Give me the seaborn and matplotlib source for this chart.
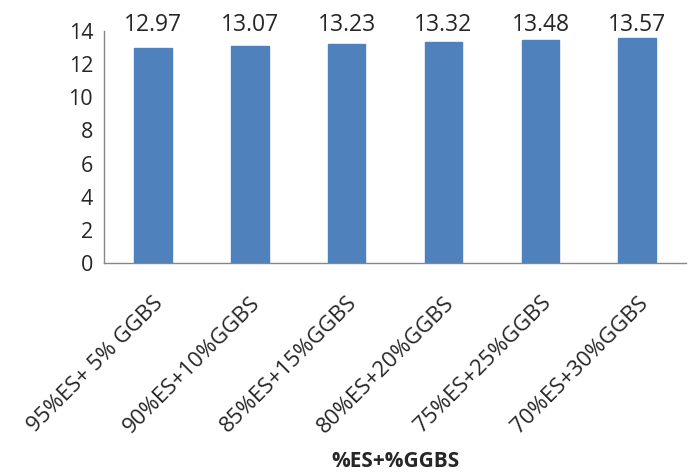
import matplotlib
matplotlib.use("Agg")
import matplotlib.pyplot as plt
import matplotlib.transforms as mtransforms
import numpy as np
import pandas as pd
import seaborn as sns

# Mix proportions and measured values
mixes = ["95%ES+ 5% GGBS", "90%ES+10%GGBS", "85%ES+15%GGBS",
         "80%ES+20%GGBS", "75%ES+25%GGBS", "70%ES+30%GGBS"]
values = [12.97, 13.07, 13.23, 13.32, 13.48, 13.57]
y_ticks = [0, 2, 4, 6, 8, 10, 12, 14]
x_title = "%ES+%GGBS"

sns.set_style("white")
plt.rcParams["font.family"] = ["Open Sans", "DejaVu Sans"]

df = pd.DataFrame({"mix": mixes, "value": values})

fig = plt.figure(figsize=(6.9, 4.75), dpi=100)
ax = fig.add_axes([0.151, 0.446, 0.843, 0.489])

sns.barplot(data=df, x="mix", y="value", color="#4F81BD", width=0.39,
            saturation=1, ax=ax, edgecolor="#4F81BD")

ax.set_ylim(0, 14)
ax.set_xlim(-0.5, len(mixes) - 0.5)
ax.set_yticks(y_ticks)
ax.set_yticklabels([str(t) for t in y_ticks], fontsize=15.5)

ax.set_xticks(range(len(mixes)))
ax.set_xticklabels(mixes, rotation=45, ha="right", rotation_mode="anchor",
                   fontsize=16)
ax.set_xticks(np.arange(-0.5, len(mixes) - 0.4, 1.0), minor=True)
ax.tick_params(axis="x", which="major", length=0, pad=21)
ax.tick_params(axis="x", which="minor", length=5, width=1, color="#868686",
               direction="out")
ax.tick_params(axis="y", length=5, width=1, color="#868686",
               direction="out", pad=3)

for side in ("top", "right"):
    ax.spines[side].set_visible(False)
for side in ("left", "bottom"):
    ax.spines[side].set_color("#868686")
    ax.spines[side].set_linewidth(1)

ax.set_ylabel("")
ax.set_xlabel(x_title, fontsize=15, fontweight="bold")
ax.xaxis.set_label_coords(0.5, -0.81)

# Value labels sit in a row along the top of the plot area
trans = mtransforms.blended_transform_factory(ax.transData, ax.transAxes)
for i, v in enumerate(values):
    ax.text(i, 1.0, f"{v:.2f}", transform=trans, ha="center", va="baseline",
            fontsize=16.5)

fig.savefig("out.png", dpi=100, facecolor="white")
